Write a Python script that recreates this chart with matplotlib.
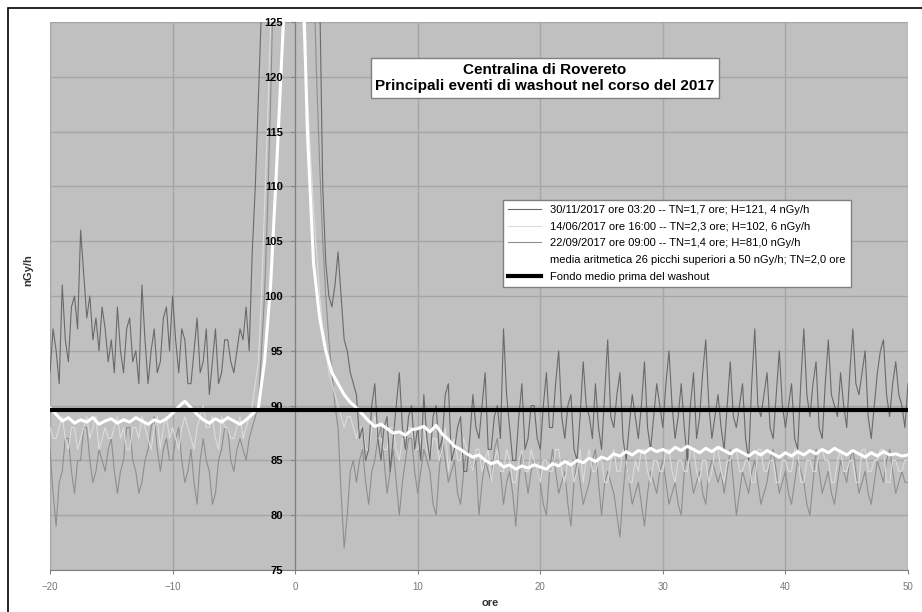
import numpy as np
import matplotlib.pyplot as plt
from matplotlib.patches import Rectangle

plt.rcParams['font.family'] = ['Liberation Sans', 'DejaVu Sans']

# hours relative to the washout peak, 15 min step for the single events
ore = np.arange(-20, 50.01, 0.25)
# 30 min step for the mean curve
ore_media = np.arange(-20, 50.01, 0.5)

# 30/11/2017 ore 03:20 (dark gray)
ev_30_11 = [
    93, 97, 95, 92, 101, 96, 94, 99, 100, 97, 106, 102, 98, 100, 96, 98, 95, 99, 97, 94,
    96, 93, 99, 95, 93, 97, 98, 94, 95, 92, 101, 96, 92, 95, 97, 93, 94, 98, 99, 95,
    100, 96, 93, 97, 96, 92, 92, 95, 98, 93, 94, 97, 91, 94, 97, 92, 93, 96, 96, 94,
    93, 95, 97, 96, 99, 95, 104, 110, 118, 126, 135, 142, 150, 158, 165, 170, 175, 178, 180, 182,
    185, 183, 180, 175, 170, 162, 155, 145, 128, 110, 103, 100, 99, 101, 104, 100, 96, 95, 93, 92,
    91, 87, 88, 85, 86, 90, 92, 87, 85, 88, 89, 84, 87, 90, 93, 88, 86, 89, 90, 86,
    88, 85, 91, 87, 85, 89, 90, 86, 87, 91, 92, 85, 86, 88, 89, 84, 84, 87, 91, 88,
    87, 90, 93, 86, 86, 89, 90, 87, 97, 91, 88, 85, 85, 89, 92, 86, 87, 90, 90, 87,
    86, 90, 93, 88, 88, 92, 95, 89, 87, 90, 91, 86, 85, 89, 94, 90, 89, 87, 92, 88,
    86, 91, 96, 89, 88, 91, 93, 87, 85, 88, 91, 89, 87, 90, 94, 88, 86, 89, 92, 90,
    88, 92, 95, 90, 87, 89, 92, 88, 85, 90, 93, 87, 89, 93, 96, 90, 87, 89, 91, 88,
    86, 90, 94, 89, 88, 90, 92, 87, 85, 92, 97, 90, 89, 91, 93, 88, 87, 91, 95, 90,
    88, 90, 92, 87, 86, 92, 97, 91, 89, 92, 94, 88, 87, 92, 96, 91, 90, 89, 93, 90,
    88, 93, 97, 92, 91, 93, 95, 89, 87, 90, 93, 95, 96, 91, 89, 92, 94, 91, 90, 88,
    92,
]

# 14/06/2017 ore 16:00 (light gray)
ev_14_06 = [
    88, 87, 87, 88, 89, 87, 86, 88, 88, 86, 87, 88, 89, 87, 88, 89, 86, 87, 88, 87,
    87, 88, 89, 87, 88, 86, 86, 88, 88, 87, 89, 88, 87, 86, 88, 89, 86, 88, 89, 87,
    88, 87, 86, 88, 89, 88, 87, 86, 88, 89, 90, 88, 88, 89, 87, 86, 89, 88, 88, 87,
    87, 88, 89, 87, 88, 89, 90, 92, 94, 100, 108, 116, 125, 133, 140, 145, 150, 150, 148, 146,
    140, 135, 128, 122, 118, 113, 108, 104, 100, 97, 95, 93, 92, 91, 90, 89, 88, 89, 89, 88,
    87, 88, 88, 86, 86, 88, 89, 87, 87, 86, 86, 88, 88, 86, 85, 87, 87, 88, 88, 86,
    86, 87, 88, 86, 85, 87, 87, 85, 86, 88, 84, 86, 87, 85, 85, 87, 86, 85, 84, 86,
    86, 84, 85, 86, 83, 85, 86, 84, 84, 86, 85, 83, 83, 85, 86, 84, 84, 86, 85, 84,
    83, 85, 85, 84, 84, 86, 86, 84, 83, 85, 85, 83, 84, 86, 83, 85, 86, 84, 84, 85,
    85, 83, 83, 85, 86, 84, 84, 86, 85, 83, 83, 85, 84, 86, 86, 84, 83, 85, 85, 84,
    84, 86, 86, 84, 83, 85, 85, 84, 84, 86, 86, 84, 83, 85, 85, 83, 84, 86, 86, 84,
    83, 85, 85, 86, 86, 84, 84, 85, 85, 83, 83, 86, 86, 84, 84, 85, 85, 83, 83, 85,
    85, 84, 84, 86, 86, 83, 83, 85, 85, 84, 84, 86, 86, 85, 85, 83, 83, 85, 86, 84,
    84, 85, 85, 83, 83, 86, 86, 84, 84, 85, 85, 86, 86, 83, 83, 85, 85, 84, 84, 85,
    85,
]

# 22/09/2017 ore 09:00 (medium gray)
ev_22_09 = [
    86, 82, 79, 83, 84, 87, 87, 84, 82, 85, 85, 88, 88, 85, 83, 84, 86, 85, 84, 86,
    87, 84, 82, 84, 85, 88, 88, 85, 84, 82, 83, 85, 86, 88, 89, 86, 84, 86, 87, 85,
    85, 87, 88, 85, 83, 84, 86, 83, 81, 85, 87, 85, 84, 81, 82, 85, 86, 88, 88, 85,
    84, 86, 87, 86, 85, 87, 88, 89, 90, 95, 100, 108, 118, 130, 140, 150, 160, 166, 170, 171,
    172, 170, 165, 158, 150, 140, 130, 120, 112, 105, 100, 96, 93, 90, 88, 82, 77, 80, 84, 85,
    83, 85, 86, 83, 81, 84, 85, 87, 88, 85, 82, 84, 86, 83, 80, 83, 85, 87, 87, 84,
    82, 84, 86, 85, 84, 81, 80, 84, 87, 85, 83, 84, 85, 82, 81, 84, 86, 85, 84, 85,
    80, 83, 85, 84, 83, 86, 87, 84, 81, 83, 84, 82, 79, 83, 86, 84, 82, 84, 85, 84,
    83, 81, 80, 84, 86, 84, 82, 83, 84, 81, 79, 83, 85, 83, 81, 82, 83, 85, 86, 83,
    80, 83, 84, 83, 82, 80, 78, 82, 85, 83, 81, 82, 83, 81, 79, 82, 84, 83, 82, 84,
    85, 83, 81, 82, 83, 81, 80, 84, 86, 84, 82, 83, 84, 82, 81, 84, 85, 84, 83, 84,
    82, 84, 86, 83, 80, 82, 84, 83, 82, 84, 85, 83, 81, 82, 83, 85, 86, 84, 82, 83,
    84, 82, 81, 83, 85, 84, 83, 81, 80, 83, 86, 84, 82, 83, 84, 82, 81, 83, 85, 84,
    83, 85, 86, 84, 82, 83, 84, 82, 81, 83, 85, 84, 83, 85, 86, 84, 82, 83, 84, 83,
    83,
]

# mean of 26 peaks (white)
media_26 = [
    89.8, 89.2, 88.6, 88.9, 88.4, 88.7, 88.5, 88.9, 88.3, 88.6,
    88.8, 88.4, 88.7, 88.5, 88.9, 88.6, 88.3, 88.7, 88.5, 88.8,
    89.3, 89.9, 90.4, 89.8, 89.2, 88.7, 88.4, 88.8, 88.5, 88.9,
    88.6, 88.3, 88.7, 89.2, 89.8, 94.0, 101.0, 112.0, 124.0, 136.0,
    142.0, 135.0, 115.0, 103.0, 98.0, 95.0, 93.0, 92.0, 91.0, 90.3,
    89.8, 89.2, 88.6, 88.1, 88.3, 87.9, 87.5, 87.6, 87.3, 87.8,
    87.9, 88.1, 87.6, 88.2, 87.4, 86.9, 86.3, 86.0, 85.6, 85.3,
    85.5, 85.0, 84.7, 84.9, 84.4, 84.6, 84.2, 84.5, 84.3, 84.6,
    84.4, 84.2, 84.7, 84.5, 84.9, 84.6, 85.0, 84.8, 85.2, 84.9,
    85.3, 85.1, 85.6, 85.4, 85.8, 85.5, 85.9, 85.7, 86.1, 85.8,
    86.0, 85.7, 86.2, 85.9, 86.3, 86.0, 85.7, 86.1, 85.8, 86.2,
    85.9, 85.6, 86.0, 85.7, 85.4, 85.8, 85.5, 85.9, 85.6, 85.3,
    85.7, 85.4, 85.8, 85.5, 85.9, 85.6, 86.0, 85.7, 86.1, 85.8,
    85.5, 85.9, 85.6, 85.3, 85.7, 85.4, 85.8, 85.5, 85.6, 85.4,
    85.5,
]

fondo_medio = 89.6

labels = [
    '30/11/2017 ore 03:20 -- TN=1,7 ore; H=121, 4 nGy/h',
    '14/06/2017 ore 16:00 -- TN=2,3 ore; H=102, 6 nGy/h',
    '22/09/2017 ore 09:00 -- TN=1,4 ore; H=81,0 nGy/h',
    'media aritmetica 26 picchi superiori a 50 nGy/h; TN=2,0 ore',
    'Fondo medio prima del washout',
]

fig = plt.figure(figsize=(9.22, 6.12), dpi=100)
fig.patch.set_facecolor('white')
# outer frame of the sheet
fig.patches.append(Rectangle((8 / 922, -0.02), 1.05, 1 - 8 / 612 + 0.02,
                             transform=fig.transFigure, fill=False,
                             edgecolor='black', lw=1.2))

ax = fig.add_axes([50 / 922, 1 - 570 / 612, 858 / 922, 548 / 612])
ax.set_facecolor('#c0c0c0')

xt = np.arange(-20, 51, 10)
yt = np.arange(75, 126, 5)
# gridlines kept under the data
for v in xt:
    ax.axvline(v, color='#a6a6a6', lw=1, zorder=0.5)
for v in yt:
    ax.axhline(v, color='#a6a6a6', lw=1, zorder=0.5)

l3, = ax.plot(ore, ev_22_09, color='#8e8e8e', lw=0.8, zorder=3)
l2, = ax.plot(ore, ev_14_06, color='#dcdcdc', lw=0.8, zorder=3)
l1, = ax.plot(ore, ev_30_11, color='#6a6a6a', lw=0.8, zorder=4)
l4, = ax.plot(ore_media, media_26, color='white', lw=2.2, zorder=5)
l5 = ax.axhline(fondo_medio, color='black', lw=3, zorder=6)

ax.set_xlim(-20, 50)
ax.set_ylim(75, 125)
ax.set_xticks(xt)
ax.set_yticks(yt)

for s in ['top', 'right']:
    ax.spines[s].set_visible(False)
ax.spines['left'].set_position(('data', 0))
ax.spines['left'].set_color('#808080')
ax.spines['left'].set_zorder(2)
ax.spines['bottom'].set_color('#808080')
ax.yaxis.set_zorder(7)
ax.tick_params(axis='y', length=3, color='#808080', labelsize=8, pad=6)
ax.tick_params(axis='x', length=3, color='#808080', labelsize=7,
               labelcolor='#777777', pad=6)
for t in ax.get_yticklabels():
    t.set_fontweight('bold')

fig.text(28 / 922, 1 - 270 / 612, 'nGy/h', rotation=90, ha='center',
         va='center', fontsize=8, fontweight='bold', color='#333333')
fig.text(490 / 922, 1 - 603 / 612, 'ore', ha='center', va='center',
         fontsize=8, fontweight='bold', color='#333333')

ax.text((545 - 50) / 858, (570 - 78) / 548,
        'Centralina di Rovereto\nPrincipali eventi di washout nel corso del 2017',
        transform=ax.transAxes, ha='center', va='center', fontsize=11,
        fontweight='bold', linespacing=1.25, zorder=10,
        bbox=dict(boxstyle='square,pad=0.3', facecolor='white',
                  edgecolor='#808080', lw=1))

leg = ax.legend([l1, l2, l3, l4, l5], labels, loc='upper left',
                bbox_to_anchor=((503 - 50) / 858, (570 - 200) / 548),
                borderaxespad=0, fontsize=8, frameon=True, fancybox=False,
                framealpha=1, edgecolor='#808080', handlelength=3,
                borderpad=0.45, labelspacing=0.6)
leg.set_zorder(10)
leg.get_frame().set_linewidth(1)

plt.savefig('out.png', dpi=100)
